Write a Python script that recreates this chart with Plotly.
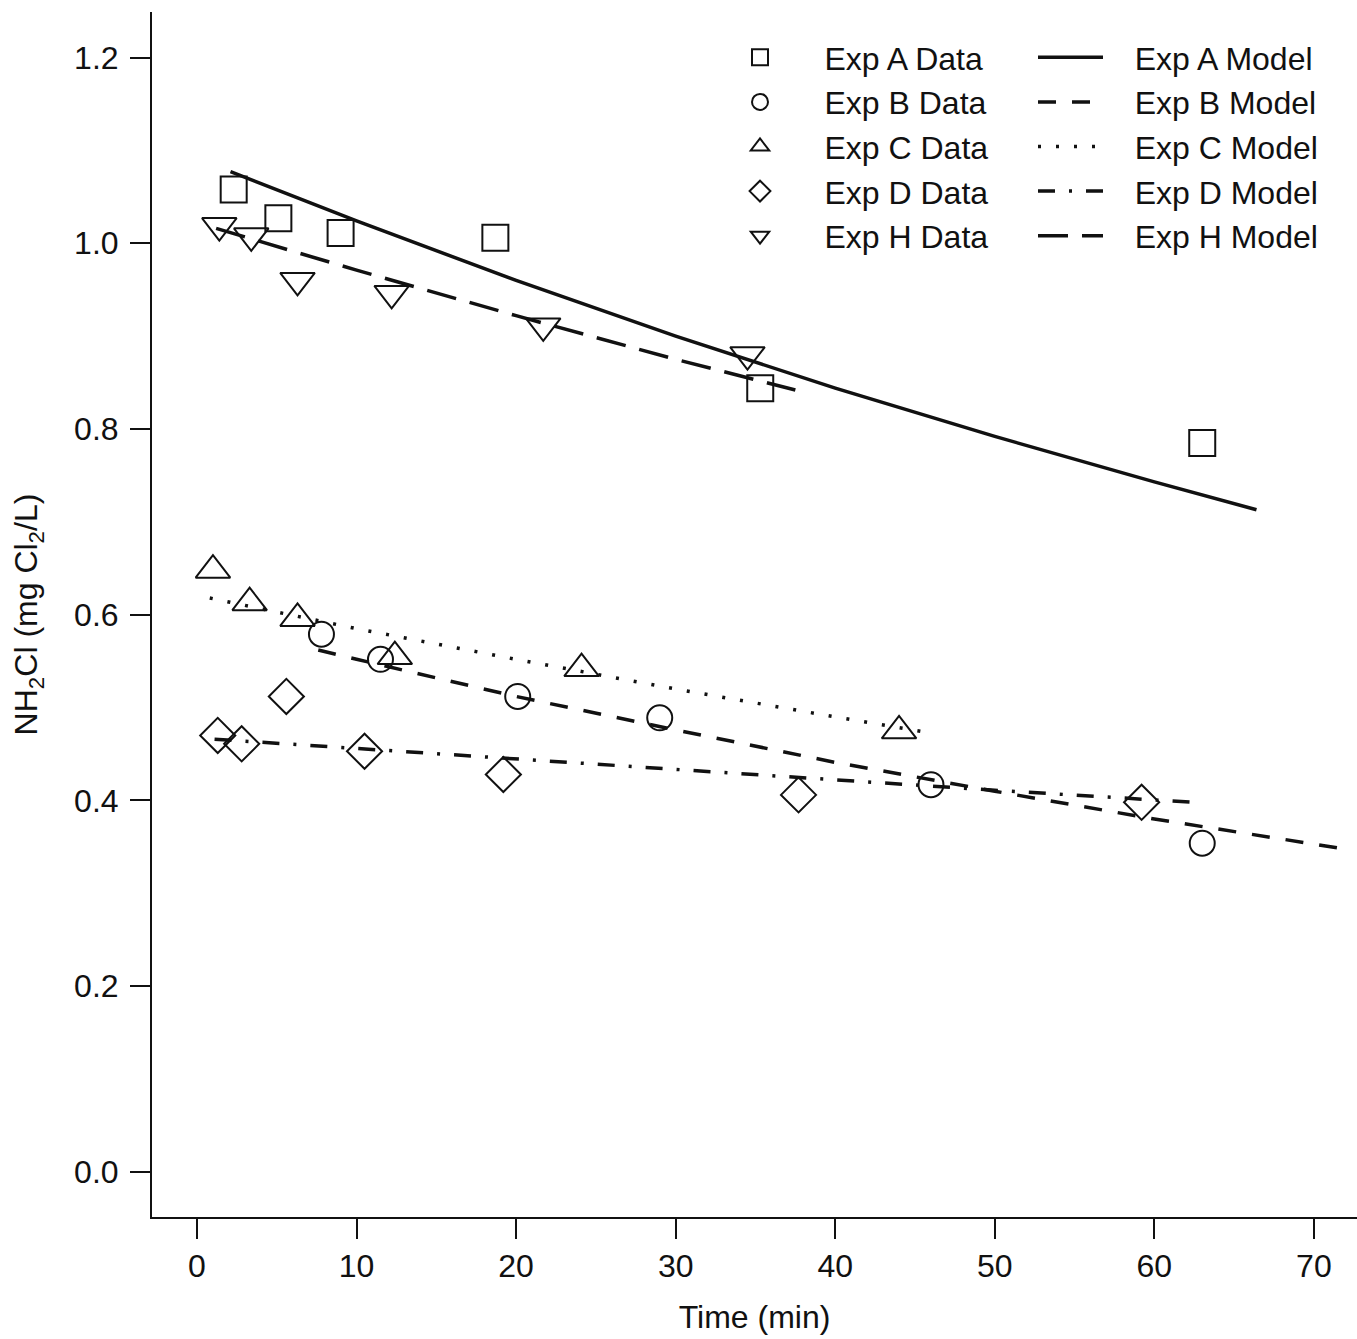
import plotly.graph_objects as go

# ---- data ----
exp_a_t = [2.3, 5.1, 9.0, 18.7, 35.3, 63.0]
exp_a_v = [1.058, 1.027, 1.011, 1.006, 0.844, 0.785]

exp_b_t = [7.8, 11.5, 20.1, 29.0, 46.0, 63.0]
exp_b_v = [0.579, 0.552, 0.512, 0.489, 0.417, 0.354]

exp_c_t = [1.0, 3.3, 6.3, 12.4, 24.1, 44.0]
exp_c_v = [0.648, 0.613, 0.596, 0.555, 0.542, 0.475]

exp_d_t = [1.3, 2.8, 5.6, 10.5, 19.2, 37.7, 59.2]
exp_d_v = [0.470, 0.461, 0.512, 0.453, 0.428, 0.406, 0.398]

exp_h_t = [1.4, 3.4, 6.3, 12.2, 21.7, 34.5]
exp_h_v = [1.019, 1.008, 0.960, 0.946, 0.911, 0.880]

model_a_t = [2.1, 10, 20, 30, 40, 50, 60, 66.4]
model_a_v = [1.077, 1.024, 0.960, 0.900, 0.844, 0.792, 0.743, 0.713]

model_b_t = [7.6, 10, 20, 30, 40, 50, 60, 71.5]
model_b_v = [0.562, 0.552, 0.512, 0.476, 0.441, 0.410, 0.380, 0.349]

model_c_t = [0.8, 10, 20, 30, 40, 45.9]
model_c_v = [0.618, 0.585, 0.552, 0.520, 0.490, 0.473]

model_d_t = [1.1, 10, 20, 30, 40, 50, 62.5]
model_d_v = [0.466, 0.456, 0.444, 0.433, 0.422, 0.411, 0.398]

model_h_t = [1.2, 10, 20, 30, 37.5]
model_h_v = [1.016, 0.971, 0.922, 0.875, 0.842]

x_ticks = [0, 10, 20, 30, 40, 50, 60, 70]
y_ticks = [0.0, 0.2, 0.4, 0.6, 0.8, 1.0, 1.2]

FONT = "Liberation Sans, Arial, sans-serif"
INK = "#111111"
PAD = "\u00a0" * 5
PAD2 = "\u00a0" * 3

fig = go.Figure()

models = [
    ("Exp A Model", model_a_t, model_a_v, "solid"),
    ("Exp B Model", model_b_t, model_b_v, "18px,16px"),
    ("Exp C Model", model_c_t, model_c_v, "3px,15px"),
    ("Exp D Model", model_d_t, model_d_v, "17px,14px,3px,14px"),
    ("Exp H Model", model_h_t, model_h_v, "30px,14px"),
]
datas = [
    ("Exp A Data", exp_a_t, exp_a_v, "square-open", 26),
    ("Exp B Data", exp_b_t, exp_b_v, "circle-open", 25),
    ("Exp C Data", exp_c_t, exp_c_v, "triangle-up-open", 30),
    ("Exp D Data", exp_d_t, exp_d_v, "diamond-open", 27),
    ("Exp H Data", exp_h_t, exp_h_v, "triangle-down-open", 30),
]

for name, t, v, sym, sz in datas:
    fig.add_trace(go.Scatter(
        x=t, y=v, mode="markers", name=PAD + name, legend="legend",
        marker=dict(symbol=sym, size=sz, color=INK, line=dict(width=2, color=INK)),
    ))

for name, t, v, dash in models:
    fig.add_trace(go.Scatter(
        x=t, y=v, mode="lines", name=PAD2 + name, legend="legend2",
        line=dict(color=INK, width=3.5, dash=dash),
    ))

axis_common = dict(
    showgrid=False, zeroline=False, showline=True, linecolor=INK, linewidth=2,
    ticks="outside", ticklen=20, tickwidth=2, tickcolor=INK,
    tickfont=dict(family=FONT, size=32, color=INK),
)

fig.update_layout(
    width=1357, height=1339,
    margin=dict(l=152, r=0, t=12, b=122),
    paper_bgcolor="white", plot_bgcolor="white",
    font=dict(family=FONT, color=INK),
    showlegend=True,
    xaxis=dict(
        range=[-2.82, 72.7], tickvals=x_ticks,
        title=dict(text="Time (min)", font=dict(family=FONT, size=32, color=INK), standoff=22),
        ticklabelstandoff=0,
        **axis_common,
    ),
    yaxis=dict(
        range=[-0.0485, 1.249], tickvals=y_ticks, tickformat=".1f",
        title=dict(text="NH<sub>2</sub>Cl (mg Cl<sub>2</sub>/L)",
                   font=dict(family=FONT, size=32, color=INK), standoff=27),
        ticklabelstandoff=5,
        **axis_common,
    ),
    legend=dict(
        x=(740 - 152) / 1205, y=(1217 - 30) / 1205, xanchor="left", yanchor="top",
        bgcolor="rgba(0,0,0,0)", borderwidth=0, traceorder="normal",
        font=dict(family=FONT, size=32, color=INK),
    ),
    legend2=dict(
        x=(1033 - 152) / 1205, y=(1217 - 30) / 1205, xanchor="left", yanchor="top",
        bgcolor="rgba(0,0,0,0)", borderwidth=0, traceorder="normal",
        itemwidth=65,
        font=dict(family=FONT, size=32, color=INK),
    ),
)

fig.write_html("out.html")
